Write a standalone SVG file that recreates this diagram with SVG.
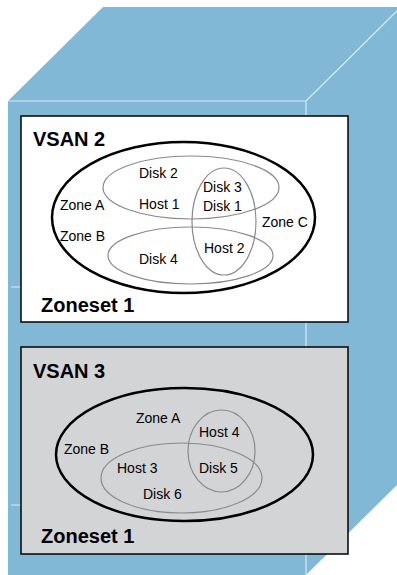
<svg xmlns="http://www.w3.org/2000/svg" width="397" height="575" viewBox="0 0 397 575">
<style>
.face{fill:#80b8d6;stroke:none}
.edge{stroke:#d8eaf4;stroke-width:1.2;fill:none}
.box{stroke:#000;stroke-width:1.5}
.outer{fill:none;stroke:#000;stroke-width:2.5}
.zone{fill:none;stroke:#8a8a8a;stroke-width:1.2}
.t{font-family:"Liberation Sans",Arial,sans-serif;font-size:14px;fill:#000}
.b{font-family:"Liberation Sans",Arial,sans-serif;font-size:20px;font-weight:bold;fill:#000}
</style>
<rect width="397" height="575" fill="#fff"/>
<g id="cabinet">
<polygon class="face" points="8,101 103,7 401,7 306,101"/>
<polygon class="face" points="306,101 401,7 401,481 306,575"/>
<rect class="face" x="8" y="101" width="298" height="474"/>
<path class="edge" d="M8,101 H306 M306,101 V575 M306,101 L401,7 M11,287 H21 M11,505 H21"/>
</g>
<g id="vsan2">
<rect class="box" x="21" y="116" width="327" height="206" fill="#fff"/>
<text class="b" x="33" y="146">VSAN 2</text>
<ellipse class="outer" cx="183.5" cy="217.5" rx="131.5" ry="75.5"/>
<ellipse class="zone" cx="191" cy="187.5" rx="88" ry="31.5"/>
<ellipse class="zone" cx="190.5" cy="255.5" rx="82.5" ry="28.5"/>
<ellipse class="zone" cx="224" cy="221.5" rx="32" ry="53.5"/>
<text class="t" x="139" y="178">Disk 2</text>
<text class="t" x="203" y="192">Disk 3</text>
<text class="t" x="139" y="209">Host 1</text>
<text class="t" x="203" y="211">Disk 1</text>
<text class="t" x="60" y="210">Zone A</text>
<text class="t" x="262" y="227">Zone C</text>
<text class="t" x="60" y="241">Zone B</text>
<text class="t" x="204" y="253">Host 2</text>
<text class="t" x="139" y="264">Disk 4</text>
<text class="b" x="41" y="312">Zoneset 1</text>
</g>
<g id="vsan3">
<rect class="box" x="21" y="347" width="327" height="207" fill="#d3d4d6"/>
<text class="b" x="33" y="378">VSAN 3</text>
<ellipse class="outer" cx="184.5" cy="454.5" rx="128.5" ry="66.5"/>
<ellipse class="zone" cx="221.5" cy="451" rx="33.5" ry="41"/>
<ellipse class="zone" cx="181.5" cy="478" rx="80.5" ry="35"/>
<text class="t" x="136" y="423">Zone A</text>
<text class="t" x="199" y="437">Host 4</text>
<text class="t" x="64" y="454">Zone B</text>
<text class="t" x="117" y="473">Host 3</text>
<text class="t" x="199" y="473">Disk 5</text>
<text class="t" x="143" y="499">Disk 6</text>
<text class="b" x="41" y="543">Zoneset 1</text>
</g>
<g id="connectors"></g>
</svg>
